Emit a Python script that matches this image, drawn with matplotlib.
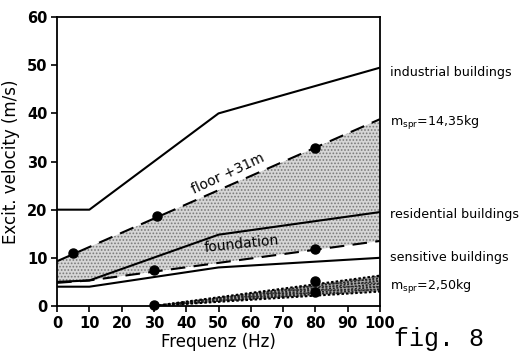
import matplotlib
matplotlib.use("Agg")
import matplotlib.pyplot as plt
import numpy as np

plt.rcParams['font.family'] = ['DejaVu Sans']
plt.rcParams['hatch.linewidth'] = 0.8
plt.rcParams['mathtext.default'] = 'regular'

# Data
limit_freq = [0, 10, 50, 100]
industrial = [20, 20, 40, 49.5]
residential = [5, 5.3, 14.8, 19.5]
sensitive = [4, 4, 8, 10]

floor_freq = [0, 100]
floor_vel = [9.3, 38.8]
found_freq = [0, 10, 100]
found_vel = [4.8, 5.3, 13.5]

floor_pts_f = [5, 31, 80]
floor_pts_v = [11, 18.7, 32.8]
found_pts_f = [30, 80]
found_pts_v = [7.5, 11.8]

small_freq = [30, 100]
small_upper = [0, 6.3]
small_lower = [0, 3.0]
small_mid = [[0, 5.8], [0, 5.2], [0, 4.6], [0, 4.0], [0, 3.5]]
small_pts_f = [30, 80, 80]
small_pts_v = [0.3, 5.2, 3.0]

right_labels = ["industrial buildings", "$m_{spr}$=14,35kg", "residential buildings",
                "sensitive buildings", "$m_{spr}$=2,50kg"]
right_label_y = [48.5, 38, 19, 10, 4]

fig = plt.figure(figsize=(5.24, 3.57), dpi=100)
ax = fig.add_axes([0.109, 0.143, 0.616, 0.809])

# shaded band between dashed curves
xf = np.array([0, 10, 100])
up = np.interp(xf, floor_freq, floor_vel)
lo = np.interp(xf, found_freq, found_vel)
ax.fill_between(xf, lo, up, facecolor='#d6d6d6', edgecolor='#7a7a7a', hatch='.....', linewidth=0)

xs = np.array(small_freq)
ax.fill_between(xs, small_lower, small_upper, facecolor='#aaaaaa', edgecolor='#333333', hatch='.....', linewidth=0)
for m in small_mid:
    ax.plot(small_freq, m, color='#222222', lw=1.2, ls=(0, (1.2, 1.0)))
ax.plot(small_freq, small_upper, color='black', lw=1.5, ls=(0, (1.2, 1.0)))
ax.plot(small_freq, small_lower, color='black', lw=1.5, ls=(0, (1.2, 1.0)))

ax.plot(limit_freq, industrial, color='black', lw=1.5)
ax.plot(limit_freq, residential, color='black', lw=1.5)
ax.plot(limit_freq, sensitive, color='black', lw=1.5)
ax.plot(floor_freq, floor_vel, color='black', lw=1.5, ls=(0, (7, 4)))
ax.plot(found_freq, found_vel, color='black', lw=1.5, ls=(0, (7, 4)))

ax.plot(floor_pts_f, floor_pts_v, 'o', color='black', ms=6.5, clip_on=False)
ax.plot(found_pts_f, found_pts_v, 'o', color='black', ms=6.5, clip_on=False)
ax.plot(small_pts_f, small_pts_v, 'o', color='black', ms=6.5, clip_on=False)

ax.set_xlim(0, 100)
ax.set_ylim(0, 60)
ax.set_xticks(range(0, 101, 10))
ax.set_yticks(range(0, 61, 10))
ax.tick_params(labelsize=10.5, width=1.2, length=4, pad=3)
for lab in ax.get_xticklabels() + ax.get_yticklabels():
    lab.set_fontweight('bold')
for s in ax.spines.values():
    s.set_linewidth(1.3)

ax.set_xlabel("Frequenz (Hz)", fontsize=12, labelpad=2)
ax.set_ylabel("Excit. velocity (m/s)", fontsize=12, labelpad=5)

for t, y in zip(right_labels, right_label_y):
    ax.text(103, y, t, fontsize=9.1, va='center', ha='left', clip_on=False)

ax.text(53, 27.5, "floor +31m", fontsize=10, rotation=25, ha='center', va='center')
ax.text(57, 12.8, "foundation", fontsize=10, rotation=6, ha='center', va='center')

fig.text(0.752, 0.03, "fig. 8", family='Liberation Mono', fontsize=18)

fig.savefig("out.png", dpi=100)
